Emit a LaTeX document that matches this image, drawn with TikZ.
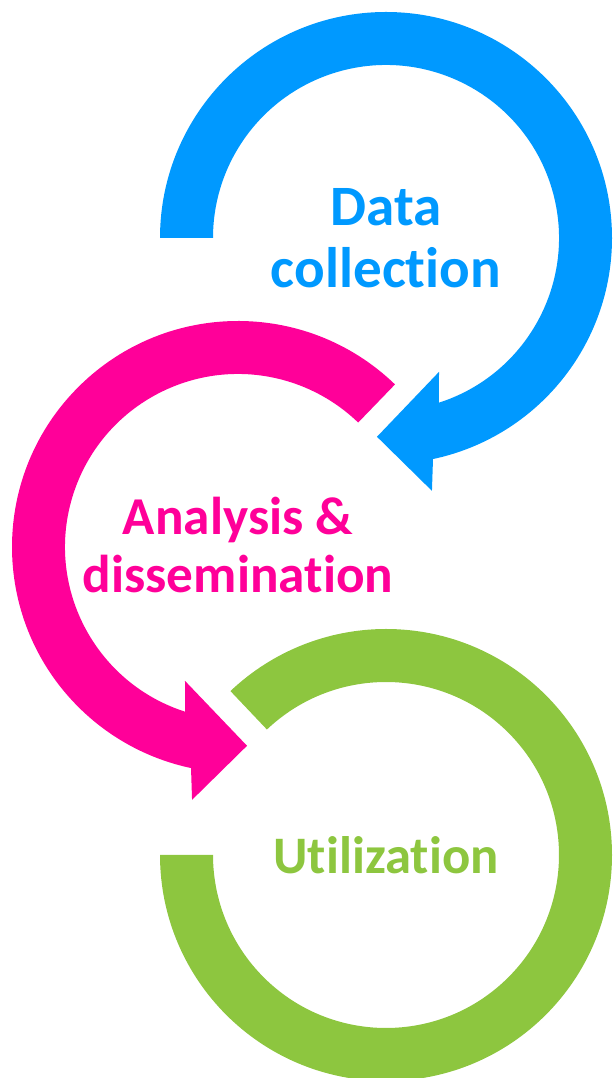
\documentclass[tikz,border=0pt]{standalone}
\usepackage{fontspec}
\setmainfont{Carlito}[Ligatures=NoCommon]
\usepackage{tikz}
\usetikzlibrary{calc}
\definecolor{azure}{HTML}{0099FF}
\definecolor{magenta}{HTML}{FF0099}
\definecolor{lime}{HTML}{8DC63F}
\tikzset{
  ring/.style={line join=miter},
  lab/.style={font=\bfseries, align=center, inner sep=0pt},
}

\begin{document}
\begin{tikzpicture}[x=0.02cm, y=0.02cm]
  \useasboundingbox (0,0) rectangle (613,1078);
  \clip (0,0) rectangle (613,1078);
  \coordinate (C1) at (386,840);
  \coordinate (C2) at (238,531);
  \coordinate (C3) at (386,223);
  % data collection: clockwise from the left, head at the bottom
  \begin{scope}[shift={(C1)}]
    \fill[ring, azure] (180:226) arc[start angle=180, end angle=-78, radius=226]
      -- (-79.7:257) -- (-92.6:199) -- (-68.4:144) -- (-72.2:173)
      arc[start angle=-72.2, end angle=180, radius=173] -- cycle;
  \end{scope}
  % analysis: counterclockwise, head at the bottom
  \begin{scope}[shift={(C2)}]
    \fill[ring, magenta] (46:226) arc[start angle=46, end angle=258, radius=226]
      -- (259.7:257) -- (272.6:199) -- (248.4:144) -- (252.2:173)
      arc[start angle=252.2, end angle=46, radius=173] -- cycle;
  \end{scope}
  % utilization: open ring, no head
  \begin{scope}[shift={(C3)}]
    \fill[ring, lime] (180:226) arc[start angle=180, end angle=493.5, radius=226]
      -- (493.5:173) arc[start angle=493.5, end angle=180, radius=173] -- cycle;
  \end{scope}
  \node[lab, text=azure, font=\bfseries\fontsize{32.5}{35}\selectfont] (data) at (C1) {Data\\collection};
  \node[lab, text=magenta, font=\bfseries\fontsize{30.3}{33}\selectfont] (ana) at ($(C2)+(0,2)$) {Analysis \&\\dissemination};
  \node[lab, text=lime, font=\bfseries\fontsize{30}{33}\selectfont] (util) at (C3) {Utilization};
\end{tikzpicture}
\end{document}
